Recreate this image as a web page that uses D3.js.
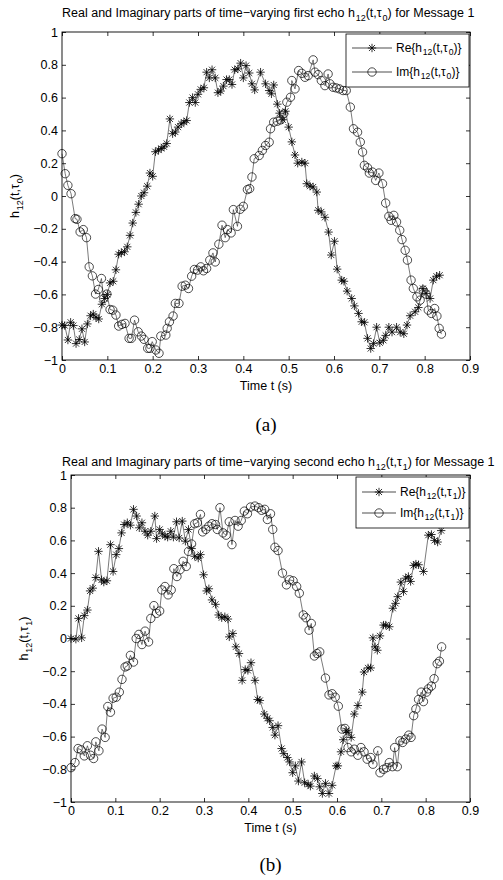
<!DOCTYPE html>
<html>
<head>
<meta charset="utf-8">
<script src="https://cdn.jsdelivr.net/npm/d3@7"></script>
<style>
body { margin: 0; background: #fff; }
</style>
</head>
<body>
<script>
// Tick values and labels (shared by both panels)
const xTicks = [0, 0.1, 0.2, 0.3, 0.4, 0.5, 0.6, 0.7, 0.8, 0.9];
const xTickLabels = ["0", "0.1", "0.2", "0.3", "0.4", "0.5", "0.6", "0.7", "0.8", "0.9"];
const yTicks = [-1, -0.8, -0.6, -0.4, -0.2, 0, 0.2, 0.4, 0.6, 0.8, 1];
const yTickLabels = ["\u22121", "\u22120.8", "\u22120.6", "\u22120.4", "\u22120.2", "0", "0.2", "0.4", "0.6", "0.8", "1"];

// (a) first echo: [time s, value]
const reA = [[0,-0.787],[0.006,-0.79],[0.013,-0.878],[0.019,-0.77],[0.025,-0.79],[0.031,-0.9],[0.038,-0.875],[0.044,-0.81],[0.05,-0.89],[0.056,-0.78],[0.063,-0.73],[0.069,-0.72],[0.075,-0.74],[0.081,-0.75],[0.088,-0.66],[0.094,-0.625],[0.1,-0.6],[0.106,-0.53],[0.113,-0.52],[0.119,-0.45],[0.125,-0.355],[0.131,-0.345],[0.138,-0.34],[0.144,-0.31],[0.15,-0.24],[0.156,-0.165],[0.163,-0.1],[0.169,-0.05],[0.175,0],[0.181,0.02],[0.188,0.06],[0.194,0.14],[0.2,0.12],[0.206,0.27],[0.213,0.28],[0.219,0.29],[0.225,0.3],[0.231,0.32],[0.238,0.47],[0.244,0.38],[0.25,0.39],[0.256,0.42],[0.263,0.44],[0.269,0.45],[0.275,0.46],[0.281,0.57],[0.288,0.6],[0.294,0.57],[0.3,0.62],[0.306,0.65],[0.313,0.66],[0.319,0.755],[0.325,0.72],[0.331,0.77],[0.338,0.72],[0.344,0.63],[0.35,0.64],[0.356,0.67],[0.363,0.71],[0.369,0.71],[0.375,0.68],[0.381,0.77],[0.388,0.775],[0.394,0.81],[0.4,0.72],[0.406,0.795],[0.413,0.75],[0.419,0.684],[0.425,0.647],
  [0.438,0.755],[0.449,0.684],[0.457,0.643],[0.462,0.623],[0.467,0.677],[0.475,0.56],[0.48,0.505],[0.487,0.465],[0.493,0.517],[0.5,0.42],[0.507,0.33],[0.514,0.25],[0.52,0.2],[0.529,0.207],[0.536,0.2],[0.54,0.075],[0.547,0.06],[0.554,0.055],[0.562,0.024],[0.565,-0.087],[0.572,-0.097],[0.58,-0.13],[0.588,-0.22],[0.594,-0.36],[0.601,-0.276],[0.607,-0.446],[0.617,-0.513],[0.622,-0.52],[0.629,-0.58],[0.639,-0.625],[0.645,-0.67],[0.654,-0.716],[0.661,-0.767],[0.667,-0.77],[0.674,-0.868],[0.681,-0.93],[0.687,-0.9],[0.694,-0.8],[0.701,-0.895],[0.709,-0.88],[0.714,-0.85],[0.721,-0.8],[0.728,-0.83],[0.738,-0.8],[0.746,-0.83],[0.754,-0.84],[0.761,-0.787],[0.768,-0.73],[0.779,-0.706],[0.786,-0.68],[0.796,-0.564],[0.803,-0.594],[0.812,-0.625],[0.819,-0.513],[0.826,-0.489],[0.833,-0.483]];

const imA = [[0,0.258],[0.007,0.136],[0.013,0.065],[0.02,0.014],[0.029,-0.138],[0.033,-0.142],[0.04,-0.219],[0.047,-0.205],[0.054,-0.254],[0.06,-0.432],[0.067,-0.487],[0.074,-0.598],[0.08,-0.57],[0.087,-0.503],[0.092,-0.625],[0.099,-0.598],[0.106,-0.692],[0.112,-0.696],[0.119,-0.726],[0.125,-0.793],[0.132,-0.783],[0.139,-0.777],[0.148,-0.868],[0.153,-0.868],[0.16,-0.757],[0.168,-0.828],[0.175,-0.854],[0.181,-0.874],[0.189,-0.929],[0.194,-0.929],[0.199,-0.888],[0.207,-0.939],[0.214,-0.959],[0.218,-0.854],[0.229,-0.848],[0.232,-0.807],[0.237,-0.767],[0.245,-0.732],[0.25,-0.655],[0.258,-0.655],[0.265,-0.55],[0.272,-0.544],[0.279,-0.564],[0.286,-0.489],[0.292,-0.448],[0.299,-0.452],[0.306,-0.432],[0.312,-0.456],[0.319,-0.442],[0.326,-0.391],[0.333,-0.347],[0.338,-0.402],[0.346,-0.294],[0.353,-0.178],[0.36,-0.254],[0.365,-0.205],[0.373,-0.225],[0.378,-0.083],[0.387,-0.185],[0.393,-0.081],[0.4,-0.063],[0.409,0.039],[0.414,0.045],[0.419,0.116],[0.424,0.227],
  [0.435,0.247],[0.442,0.278],[0.449,0.308],[0.457,0.328],[0.46,0.41],[0.467,0.45],[0.475,0.456],[0.482,0.464],[0.489,0.501],[0.496,0.572],[0.504,0.602],[0.507,0.704],[0.514,0.653],[0.522,0.765],[0.529,0.748],[0.536,0.724],[0.543,0.734],[0.554,0.83],[0.558,0.755],[0.565,0.74],[0.572,0.704],[0.58,0.673],[0.587,0.744],[0.591,0.684],[0.598,0.663],[0.605,0.659],[0.612,0.653],[0.62,0.643],[0.627,0.643],[0.636,0.542],[0.643,0.41],[0.652,0.389],[0.658,0.329],[0.663,0.268],[0.667,0.187],[0.674,0.172],[0.678,0.14],[0.685,0.146],[0.692,0.095],[0.699,0.14],[0.707,0.075],[0.714,-0.043],[0.721,-0.124],[0.726,-0.148],[0.732,-0.118],[0.738,-0.158],[0.745,-0.209],[0.75,-0.266],[0.757,-0.331],[0.762,-0.391],[0.77,-0.513],[0.775,-0.564],[0.783,-0.615],[0.79,-0.635],[0.797,-0.574],[0.803,-0.598],[0.808,-0.696],[0.815,-0.716],[0.822,-0.686],[0.827,-0.732],[0.832,-0.807],[0.837,-0.842]];

// (b) second echo: [time s, value]
const reB = [[0,0],[0.011,-0.004],[0.017,0.123],[0.024,0.004],[0.03,0.14],[0.037,0.174],[0.043,0.291],[0.049,0.308],[0.056,0.373],[0.062,0.533],[0.069,0.359],[0.074,0.345],[0.081,0.353],[0.089,0.574],[0.095,0.41],[0.102,0.513],[0.108,0.55],[0.114,0.646],[0.12,0.697],[0.127,0.708],[0.134,0.693],[0.141,0.79],[0.148,0.749],[0.154,0.677],[0.16,0.708],[0.167,0.656],[0.173,0.632],[0.18,0.656],[0.189,0.749],[0.193,0.611],[0.2,0.667],[0.206,0.64],[0.212,0.626],[0.218,0.62],[0.225,0.656],[0.231,0.62],[0.238,0.714],[0.244,0.615],[0.251,0.718],[0.258,0.595],[0.265,0.667],[0.272,0.55],[0.279,0.503],[0.287,0.492],[0.292,0.513],[0.299,0.39],[0.306,0.291],[0.311,0.304],[0.318,0.236],[0.326,0.209],[0.333,0.144],[0.34,0.127],[0.347,0.133],[0.354,0.119],[0.357,0.01],[0.365,0.031],[0.372,-0.051],[0.379,-0.092],[0.386,-0.256],[0.393,-0.19],[0.399,-0.195],[0.406,-0.148],
  [0.415,-0.256],[0.421,-0.373],[0.426,-0.379],[0.436,-0.462],[0.443,-0.488],[0.448,-0.503],[0.455,-0.544],[0.46,-0.591],[0.467,-0.533],[0.475,-0.673],[0.48,-0.704],[0.488,-0.728],[0.493,-0.755],[0.5,-0.821],[0.506,-0.779],[0.513,-0.872],[0.52,-0.755],[0.527,-0.882],[0.535,-0.892],[0.54,-0.903],[0.549,-0.841],[0.556,-0.857],[0.561,-0.907],[0.567,-0.948],[0.574,-0.886],[0.582,-0.948],[0.589,-0.898],[0.598,-0.779],[0.602,-0.779],[0.609,-0.693],[0.614,-0.619],[0.621,-0.564],[0.625,-0.574],[0.632,-0.605],[0.639,-0.462],[0.647,-0.41],[0.657,-0.328],[0.661,-0.205],[0.67,-0.18],[0.676,-0.18],[0.681,0.004],[0.686,-0.051],[0.691,-0.072],[0.697,0.016],[0.705,0.082],[0.71,0.082],[0.718,0.072],[0.726,0.185],[0.732,0.215],[0.737,0.256],[0.744,0.345],[0.75,0.287],[0.755,0.369],[0.761,0.379],[0.766,0.349],[0.773,0.447],[0.778,0.455],[0.784,0.451],[0.795,0.41],[0.806,0.632],[0.813,0.636],[0.82,0.6],[0.827,0.59],[0.835,0.66]];

const imB = [[0,-0.79],[0.009,-0.759],[0.016,-0.673],[0.023,-0.681],[0.03,-0.718],[0.037,-0.656],[0.044,-0.714],[0.051,-0.734],[0.056,-0.632],[0.063,-0.687],[0.07,-0.554],[0.077,-0.605],[0.083,-0.416],[0.089,-0.451],[0.095,-0.365],[0.102,-0.359],[0.109,-0.328],[0.115,-0.25],[0.122,-0.174],[0.127,-0.168],[0.134,-0.103],[0.141,-0.144],[0.147,0],[0.153,0.025],[0.16,-0.037],[0.167,0.045],[0.175,-0.021],[0.18,0.123],[0.187,0.201],[0.193,0.154],[0.2,0.168],[0.205,0.297],[0.212,0.318],[0.219,0.267],[0.226,0.297],[0.232,0.427],[0.239,0.379],[0.246,0.421],[0.253,0.472],[0.26,0.441],[0.265,0.533],[0.272,0.578],[0.279,0.702],[0.285,0.708],[0.292,0.759],[0.297,0.652],[0.304,0.667],[0.311,0.687],[0.318,0.702],[0.326,0.697],[0.33,0.667],[0.336,0.8],[0.343,0.646],[0.35,0.632],[0.357,0.714],[0.363,0.574],[0.37,0.722],[0.377,0.687],[0.384,0.722],[0.391,0.779],[0.398,0.763],[0.405,0.804],
  [0.415,0.81],[0.423,0.8],[0.43,0.784],[0.437,0.79],[0.443,0.728],[0.45,0.763],[0.455,0.667],[0.46,0.558],[0.467,0.538],[0.477,0.4],[0.486,0.328],[0.493,0.359],[0.501,0.353],[0.509,0.318],[0.515,0.277],[0.524,0.144],[0.53,0.127],[0.537,0.051],[0.542,0.092],[0.549,-0.107],[0.555,-0.092],[0.561,-0.082],[0.574,-0.242],[0.582,-0.345],[0.589,-0.338],[0.596,-0.359],[0.603,-0.414],[0.611,-0.554],[0.618,-0.55],[0.625,-0.667],[0.632,-0.693],[0.639,-0.677],[0.647,-0.714],[0.654,-0.667],[0.661,-0.693],[0.668,-0.738],[0.676,-0.728],[0.681,-0.769],[0.692,-0.687],[0.697,-0.821],[0.705,-0.8],[0.712,-0.79],[0.718,-0.759],[0.725,-0.784],[0.73,-0.667],[0.736,-0.784],[0.742,-0.626],[0.748,-0.636],[0.755,-0.615],[0.762,-0.591],[0.767,-0.605],[0.773,-0.472],[0.778,-0.431],[0.784,-0.373],[0.79,-0.328],[0.795,-0.386],[0.802,-0.328],[0.806,-0.308],[0.813,-0.291],[0.819,-0.246],[0.826,-0.154],[0.831,-0.139],[0.836,-0.051]];

const sans = "'Liberation Sans', Arial, Helvetica, sans-serif";
const serif = "'Liberation Serif', 'Times New Roman', serif";
const FS = 12.5;

var svg = d3.select("body").append("svg")
  .attr("width", 503)
  .attr("height", 880)
  .style("background", "#fff");

// text with tex-like subscripts; parts = [[string, isSub], ...]
function richText(sel, parts, fs) {
  var shift = 0;
  parts.forEach(function(p) {
    var target = p[1] ? fs * 0.28 : 0;
    var ts = sel.append("tspan")
      .attr("dy", target - shift)
      .attr("font-size", p[1] ? fs * 0.72 : fs)
      .text(p[0]);
    if (p[1]) ts.attr("dx", 0.8);
    shift = target;
  });
}

// star marker (MATLAB '*')
function starPath(r) {
  var d = r * 0.72;
  return "M" + (-r) + ",0H" + r + "M0," + (-r) + "V" + r +
    "M" + (-d) + "," + (-d) + "L" + d + "," + d +
    "M" + (-d) + "," + d + "L" + d + "," + (-d);
}

function drawPanel(p) {
  var x = d3.scaleLinear().domain([0, 0.9]).range([p.left, p.right]);
  var y = d3.scaleLinear().domain([-1, 1]).range([p.bottom, p.top]);
  var g = svg.append("g");

  // axes, ticks pointing inward on all four sides
  var axB = g.append("g").attr("transform", "translate(0," + p.bottom + ")")
    .call(d3.axisBottom(x).tickValues(xTicks).tickFormat(function(d, i) { return xTickLabels[i]; }).tickSize(-4).tickPadding(4));
  var axT = g.append("g").attr("transform", "translate(0," + p.top + ")")
    .call(d3.axisTop(x).tickValues(xTicks).tickFormat("").tickSize(-4));
  var axL = g.append("g").attr("transform", "translate(" + p.left + ",0)")
    .call(d3.axisLeft(y).tickValues(yTicks).tickFormat(function(d, i) { return yTickLabels[i]; }).tickSize(-4).tickPadding(4));
  var axR = g.append("g").attr("transform", "translate(" + p.right + ",0)")
    .call(d3.axisRight(y).tickValues(yTicks).tickFormat("").tickSize(-4));
  [axB, axT, axL, axR].forEach(function(a) {
    a.select(".domain").remove();
    a.attr("font-family", sans).attr("font-size", FS);
    a.selectAll("line").attr("stroke", "#000").attr("stroke-width", 0.8);
    a.selectAll("text").attr("fill", "#000");
  });

  g.append("rect")
    .attr("x", p.left).attr("y", p.top)
    .attr("width", p.right - p.left).attr("height", p.bottom - p.top)
    .attr("fill", "none").attr("stroke", "#000").attr("stroke-width", 0.9);

  var line = d3.line().x(function(d) { return x(d[0]); }).y(function(d) { return y(d[1]); });

  // Re series: line + stars
  g.append("path").datum(p.re).attr("d", line)
    .attr("fill", "none").attr("stroke", "#222").attr("stroke-width", 0.6);
  g.selectAll(".star").data(p.re).enter().append("path")
    .attr("class", "star")
    .attr("transform", function(d) { return "translate(" + x(d[0]) + "," + y(d[1]) + ")"; })
    .attr("d", starPath(4.2))
    .attr("stroke", "#000").attr("stroke-width", 0.8).attr("fill", "none");

  // Im series: line + circles
  g.append("path").datum(p.im).attr("d", line)
    .attr("fill", "none").attr("stroke", "#222").attr("stroke-width", 0.6);
  g.selectAll(".circ").data(p.im).enter().append("circle")
    .attr("class", "circ")
    .attr("cx", function(d) { return x(d[0]); })
    .attr("cy", function(d) { return y(d[1]); })
    .attr("r", 4.2)
    .attr("stroke", "#000").attr("stroke-width", 0.7).attr("fill", "none");

  // title
  var t = g.append("text")
    .attr("x", p.titleX).attr("y", p.titleY)
    .attr("font-family", sans).attr("font-size", FS);
  richText(t, [["Real and Imaginary parts of time\u2212varying " + p.which + " echo h", 0], ["12", 1], ["(t,\u03c4", 0], [p.tau, 1], [") for Message 1", 0]], FS);

  // y label
  var yl = g.append("text")
    .attr("transform", "translate(" + p.ylabelX + "," + ((p.top + p.bottom) / 2) + ") rotate(-90)")
    .attr("text-anchor", "middle").attr("font-family", sans).attr("font-size", FS);
  richText(yl, [["h", 0], ["12", 1], ["(t,\u03c4", 0], [p.tau, 1], [")", 0]], FS);

  // x label
  g.append("text")
    .attr("x", (p.left + p.right) / 2).attr("y", p.bottom + 30)
    .attr("text-anchor", "middle").attr("font-family", sans).attr("font-size", FS)
    .text("Time t (s)");

  // caption
  g.append("text")
    .attr("x", (p.left + p.right) / 2).attr("y", p.capY)
    .attr("text-anchor", "middle").attr("font-family", serif).attr("font-size", 19)
    .text(p.caption);

  // legend
  var L = p.legend;
  g.append("rect")
    .attr("x", L.x).attr("y", L.y).attr("width", L.w).attr("height", L.h)
    .attr("fill", "#fff").attr("stroke", "#000").attr("stroke-width", 0.8);
  [["Re", "star", L.row1], ["Im", "circ", L.row2]].forEach(function(r) {
    g.append("line")
      .attr("x1", L.x + 6).attr("x2", L.x + 6 + L.lineLen)
      .attr("y1", r[2]).attr("y2", r[2])
      .attr("stroke", "#000").attr("stroke-width", 0.7);
    var mx = L.x + 6 + L.lineLen / 2;
    if (r[1] === "star") {
      g.append("path").attr("transform", "translate(" + mx + "," + r[2] + ")")
        .attr("d", starPath(4.2)).attr("stroke", "#000").attr("stroke-width", 0.8).attr("fill", "none");
    } else {
      g.append("circle").attr("cx", mx).attr("cy", r[2]).attr("r", 4.2)
        .attr("stroke", "#000").attr("stroke-width", 0.7).attr("fill", "none");
    }
    var lt = g.append("text")
      .attr("x", L.x + 6 + L.lineLen + 4).attr("y", r[2] + 4)
      .attr("font-family", sans).attr("font-size", 12);
    richText(lt, [[r[0] + "{h", 0], ["12", 1], ["(t,\u03c4", 0], [p.tau, 1], [")}", 0]], 12);
  });
}

drawPanel({
  left: 62, right: 470, top: 32, bottom: 360,
  re: reA, im: imA, which: "first", tau: "0",
  titleX: 62, titleY: 17, ylabelX: 19, capY: 431, caption: "(a)",
  legend: { x: 346, y: 34, w: 123, h: 53, row1: 48, row2: 72, lineLen: 40 }
});

drawPanel({
  left: 71, right: 470, top: 475, bottom: 802,
  re: reB, im: imB, which: "second", tau: "1",
  titleX: 62, titleY: 466, ylabelX: 28, capY: 871, caption: "(b)",
  legend: { x: 356, y: 477, w: 113, h: 51, row1: 492, row2: 513, lineLen: 34 }
});
</script>
</body>
</html>
